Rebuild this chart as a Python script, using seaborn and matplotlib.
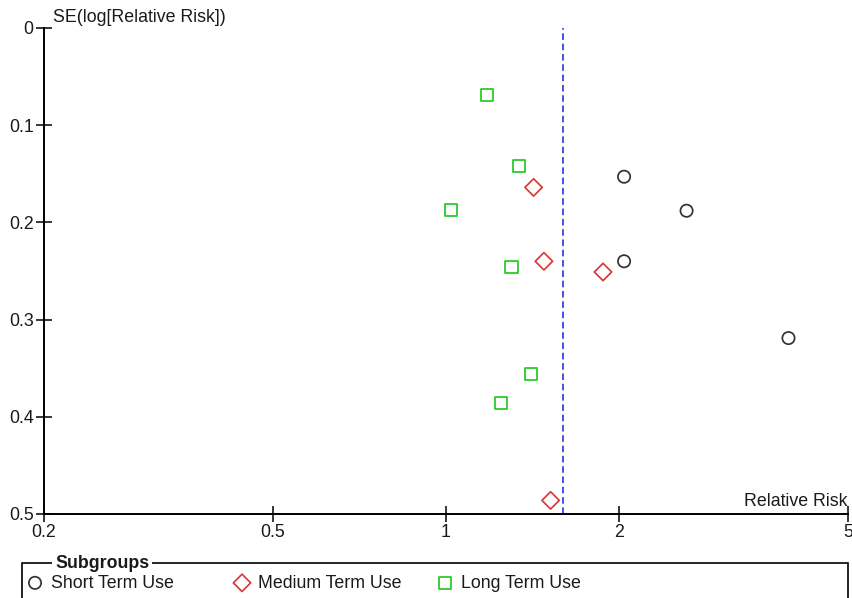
import pandas as pd
import seaborn as sns
import matplotlib.pyplot as plt
from matplotlib.patches import Rectangle

# values
SHORT_RR = [2.04, 2.62, 2.04, 3.94]
SHORT_SE = [0.153, 0.188, 0.240, 0.319]
MEDIUM_RR = [1.42, 1.48, 1.875, 1.52]
MEDIUM_SE = [0.164, 0.240, 0.251, 0.486]
LONG_RR = [1.18, 1.34, 1.02, 1.30, 1.405, 1.246]
LONG_SE = [0.069, 0.142, 0.187, 0.246, 0.356, 0.386]
POOLED_RR = 1.60

X_TICKS = [0.2, 0.5, 1, 2, 5]
X_TICK_LABELS = ["0.2", "0.5", "1", "2", "5"]
Y_TICKS = [0, 0.1, 0.2, 0.3, 0.4, 0.5]
Y_TICK_LABELS = ["0", "0.1", "0.2", "0.3", "0.4", "0.5"]

GROUPS = [
    ("Short Term Use", SHORT_RR, SHORT_SE, "o", "#333333"),
    ("Medium Term Use", MEDIUM_RR, MEDIUM_SE, "D", "#d93a3a"),
    ("Long Term Use", LONG_RR, LONG_SE, "s", "#22c822"),
]
LEGEND_X = [35, 242, 445]  # pixel centre of each legend marker

sns.set_style("white")
plt.rcParams["font.family"] = ["Liberation Sans", "DejaVu Sans"]
plt.rcParams["font.size"] = 12.75
plt.rcParams["text.color"] = "#1a1a1a"

W, H = 853, 598
FS = 12.75
fig = plt.figure(figsize=(W / 100, H / 100), dpi=100)
ax = fig.add_axes([44 / W, 1 - 514 / H, 804 / W, 486 / H])

for name, rr, se, marker, col in GROUPS:
    df = pd.DataFrame({"rr": rr, "se": se})
    sns.scatterplot(data=df, x="rr", y="se", marker=marker, s=78,
                    facecolor="none", edgecolor=col, linewidth=1.25,
                    label=name, ax=ax, legend=False)

ax.axvline(POOLED_RR, color="#4d4de6", lw=1.4, ls=(0, (3.4, 1.9)), zorder=1)

ax.set_xscale("log")
ax.set_xlim(0.2, 5)
ax.set_ylim(0.5, 0)
ax.set_xticks(X_TICKS)
ax.set_xticklabels(X_TICK_LABELS)
ax.minorticks_off()
ax.set_yticks(Y_TICKS)
ax.set_yticklabels(Y_TICK_LABELS)
ax.tick_params(bottom=True, left=True, direction="inout", length=11, width=1.1,
               color="black", labelcolor="#1a1a1a", labelsize=FS, pad=2)

for side in ["top", "right"]:
    ax.spines[side].set_visible(False)
for side in ["left", "bottom"]:
    ax.spines[side].set_color("black")
    ax.spines[side].set_linewidth(1.4)

ax.set_ylabel("SE(log[Relative Risk])", rotation=0, ha="left", va="center",
              fontsize=FS, color="#1a1a1a")
ax.yaxis.set_label_coords(9 / 804, 1 + 10 / 486)
ax.set_xlabel("Relative Risk", ha="right", va="center", fontsize=FS, color="#1a1a1a")
ax.xaxis.set_label_coords(1.0, 12 / 486)

# group box legend along the bottom, one entry per slot
handles, labels = ax.get_legend_handles_labels()
hl_px = FS * 100 / 72
for h, lab, cx in zip(handles, labels, LEGEND_X):
    leg = fig.legend([h], [lab], frameon=False, loc="center left",
                     bbox_to_anchor=((cx - hl_px / 2) / W, 1 - 583 / H),
                     borderpad=0, borderaxespad=0, handlelength=1.0,
                     handletextpad=0.4, fontsize=FS, scatterpoints=1)
    for t in leg.get_texts():
        t.set_color("#1a1a1a")
fig.patches.append(Rectangle((22 / W, -0.1), 826 / W, 0.1 + 1 - 563 / H,
                             transform=fig.transFigure, fill=False,
                             edgecolor="black", lw=1.2, clip_on=False))
fig.text(55 / W, 1 - 563 / H, "Subgroups", fontweight="bold", fontsize=FS,
         ha="left", va="center", color="#1a1a1a",
         bbox=dict(facecolor="white", edgecolor="none", pad=2))

fig.savefig("out.png", dpi=100)
